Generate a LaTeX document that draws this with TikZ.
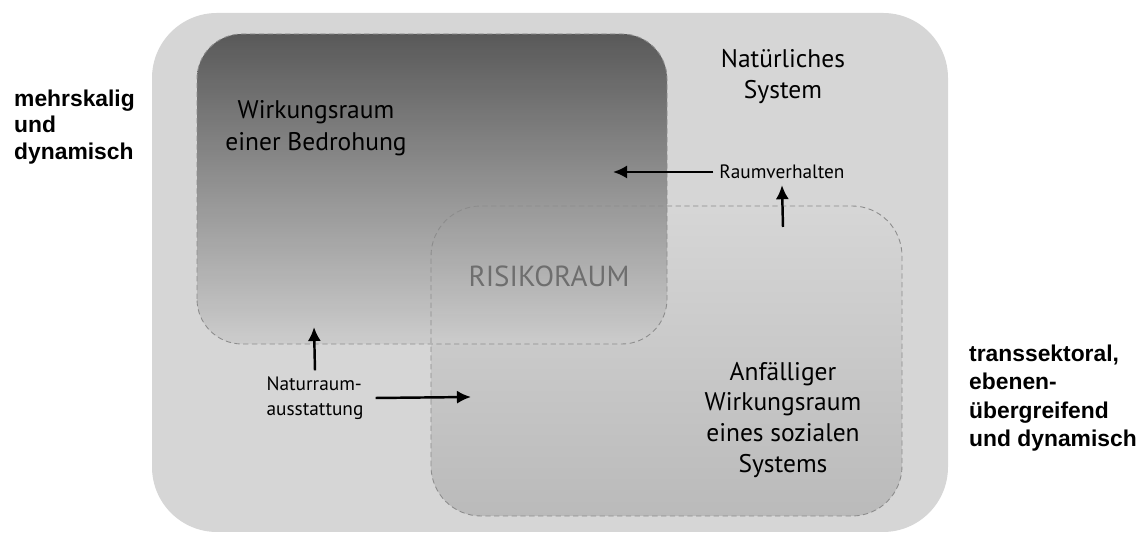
\documentclass[tikz,border=0pt]{standalone}
\usepackage{fontspec}
\setmainfont{PT Sans}
\newfontfamily\sidefont{Liberation Sans}
\usetikzlibrary{positioning, arrows.meta}
\definecolor{outergray}{HTML}{D6D6D6}
\definecolor{edgegray}{HTML}{8C8C8C}

\tikzset{
    zone/.style={draw=edgegray, dashed, dash pattern=on 3pt off 2pt, line width=0.5pt},
    flow/.style={-{Latex[length=8pt,width=7.5pt]}, line width=1.4pt},
    biglabel/.style={align=center, font=\fontsize{14.5}{18.5}\selectfont},
    smalllabel/.style={font=\fontsize{11}{14.2}\selectfont},
    sidelabel/.style={align=left, font=\sidefont\bfseries\fontsize{13}{15}\selectfont}
}

\begin{document}
\begin{tikzpicture}[x=0.02cm, y=0.02cm]
    \useasboundingbox (0,0) rectangle (1144,533);
    % background system
    \fill[outergray, rounded corners=1.3cm] (152,1) rectangle (948,520);
    % social system and threat area
    \shade[top color=black!16, bottom color=black!27, rounded corners=1cm] (431,17) rectangle (902,327);
    \shade[top color=black!69, bottom color=black!20, rounded corners=0.9cm, fill opacity=0.92] (197,189) rectangle (667,499);
    \draw[zone, rounded corners=1cm] (431,17) rectangle (902,327);
    \draw[zone, rounded corners=0.9cm] (197,189) rectangle (667,499);

    \node[biglabel] (threat) at (316,405) {Wirkungsraum\\einer Bedrohung};
    \node[biglabel, font=\fontsize{14.5}{17.6}\selectfont] (natural) at (783,456) {Natürliches\\System};
    \node[biglabel, text=black!57, font=\fontsize{16.5}{18}\selectfont] (risk) at (549,257) {RISIKORAUM};
    \node[biglabel, font=\fontsize{14.5}{17.6}\selectfont] (social) at (783,113) {Anfälliger\\Wirkungsraum\\eines sozialen\\Systems};
    \node[smalllabel] (behaviour) at (782,361) {Raumverhalten};
    \node[smalllabel, align=left] (nature) at (315,135) {Naturraum-\\ausstattung};

    \node[sidelabel, anchor=west] (scales) at (8,406) {mehrskalig\\und\\dynamisch};
    \node[sidelabel, anchor=west, font=\sidefont\bfseries\fontsize{13}{16.1}\selectfont] (sectors) at (963,135) {transsektoral,\\ebenen-\\übergreifend\\und dynamisch};

    \coordinate (b1) at (613,361);
    \coordinate (b2) at (783,306);
    \coordinate (n1) at (314,206);
    \coordinate (n2) at (471,136);

    \draw[flow] (behaviour.west) -- (b1);
    \draw[flow] (b2) -- (behaviour.south);
    \draw[flow] (nature.north) -- (n1);
    \draw[flow] (nature.east) ++(6,0) -- (n2);
\end{tikzpicture}
\end{document}
